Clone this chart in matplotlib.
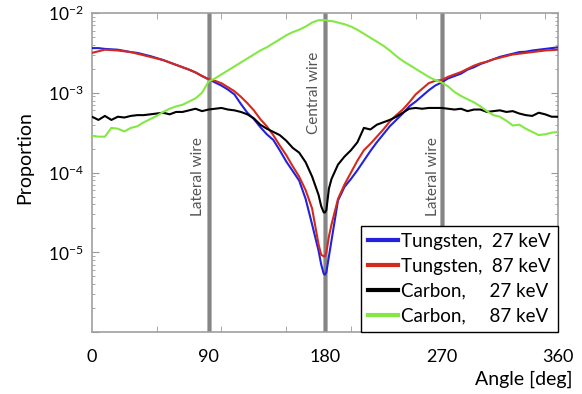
import matplotlib
matplotlib.use('Agg')
import matplotlib.pyplot as plt
import numpy as np

plt.rcParams.update({
    'font.family': ['Lato', 'DejaVu Sans'],
    'mathtext.fontset': 'custom',
    'mathtext.rm': 'Lato',
    'axes.linewidth': 1.2,
})

angle = ([a for a in range(0, 175, 5)] + [175, 177, 179, 180, 181, 183, 185]
         + [a for a in range(190, 365, 5)])

w27_exp = [-2.44, -2.44, -2.45, -2.455, -2.46, -2.475, -2.49, -2.50, -2.52, -2.54,
           -2.565, -2.59, -2.62, -2.65, -2.68, -2.71, -2.745, -2.79, -2.83, -2.87,
           -2.91, -2.96, -3.02, -3.14, -3.25, -3.33, -3.43, -3.52, -3.59, -3.72,
           -3.86, -3.98, -4.10, -4.33, -4.65,
           -4.98, -5.15, -5.27, -5.28, -5.25, -5.05, -4.85,
           -4.35, -4.18, -4.08, -3.97, -3.85, -3.73, -3.62, -3.52, -3.42, -3.34,
           -3.26, -3.17, -3.11, -3.04, -2.97, -2.91, -2.87, -2.82, -2.79, -2.76,
           -2.71, -2.68, -2.64, -2.61, -2.58, -2.55, -2.53, -2.51, -2.49, -2.485,
           -2.47, -2.46, -2.45, -2.44, -2.43]

w87_exp = [-2.50, -2.48, -2.46, -2.465, -2.47, -2.48, -2.49, -2.51, -2.53, -2.55,
           -2.57, -2.59, -2.62, -2.65, -2.68, -2.71, -2.745, -2.79, -2.83, -2.85,
           -2.88, -2.93, -2.98, -3.05, -3.13, -3.22, -3.33, -3.42, -3.53, -3.66,
           -3.78, -3.92, -4.05, -4.22, -4.45,
           -4.90, -5.03, -5.05, -5.05, -5.00, -4.80, -4.65,
           -4.33, -4.15, -4.00, -3.85, -3.72, -3.64, -3.55, -3.46, -3.36, -3.28,
           -3.21, -3.12, -3.02, -2.95, -2.88, -2.85, -2.84, -2.80, -2.77, -2.74,
           -2.70, -2.66, -2.63, -2.61, -2.58, -2.56, -2.54, -2.52, -2.51, -2.50,
           -2.49, -2.48, -2.47, -2.465, -2.46]

c27_exp = [-3.30, -3.34, -3.29, -3.34, -3.30, -3.31, -3.29, -3.28, -3.28, -3.27,
           -3.26, -3.25, -3.27, -3.24, -3.24, -3.22, -3.20, -3.23, -3.21, -3.20,
           -3.19, -3.21, -3.22, -3.24, -3.27, -3.32, -3.40, -3.45, -3.49, -3.53,
           -3.60, -3.69, -3.75, -3.87, -4.05,
           -4.28, -4.42, -4.50, -4.50, -4.47, -4.20, -4.08,
           -3.90, -3.80, -3.72, -3.62, -3.44, -3.46, -3.40, -3.37, -3.34, -3.30,
           -3.25, -3.20, -3.19, -3.20, -3.19, -3.19, -3.19, -3.20, -3.21, -3.20,
           -3.23, -3.21, -3.21, -3.24, -3.23, -3.22, -3.24, -3.23, -3.26, -3.28,
           -3.29, -3.25, -3.27, -3.30, -3.30]

c87_exp = [-3.54, -3.55, -3.55, -3.44, -3.45, -3.485, -3.44, -3.42, -3.37, -3.33,
           -3.29, -3.24, -3.20, -3.17, -3.15, -3.11, -3.07, -3.00, -2.86, -2.82,
           -2.77, -2.72, -2.67, -2.62, -2.57, -2.52, -2.47, -2.43, -2.38, -2.33,
           -2.28, -2.24, -2.21, -2.17, -2.12,
           -2.09, -2.09, -2.09, -2.09, -2.09, -2.10, -2.10,
           -2.12, -2.14, -2.17, -2.21, -2.26, -2.31, -2.36, -2.41, -2.47, -2.54,
           -2.60, -2.65, -2.70, -2.75, -2.80, -2.84, -2.87, -2.92, -2.99, -3.04,
           -3.08, -3.12, -3.17, -3.23, -3.28, -3.30, -3.35, -3.41, -3.40, -3.45,
           -3.49, -3.53, -3.52, -3.50, -3.49]

series_labels = ['Tungsten,  27 keV', 'Tungsten,  87 keV',
                 'Carbon,     27 keV', 'Carbon,     87 keV']
series_colors = ['#2222dd', '#d42a1c', '#000000', '#84e844']

wire_angles = [90, 180, 270]
wire_names = ['Lateral wire', 'Central wire', 'Lateral wire']

xtick_vals = [0, 90, 180, 270, 360]
ytick_vals = [1e-6, 1e-5, 1e-4, 1e-3, 1e-2]
ytick_labels = ['', r'$\mathregular{10^{-5}}$', r'$\mathregular{10^{-4}}$',
                r'$\mathregular{10^{-3}}$', r'$\mathregular{10^{-2}}$']

fig = plt.figure(figsize=(5.82, 3.94), dpi=100)
ax = fig.add_axes([0.158, 0.157, 0.801, 0.810])

# wires
for xa in wire_angles:
    ax.axvline(xa, color='#b8b8b8', lw=3.6, zorder=1)
    ax.axvline(xa, color='#858585', lw=2.2, zorder=1.1)

for vals, lab, col in zip([w27_exp, w87_exp, c27_exp, c87_exp], series_labels, series_colors):
    ax.plot(angle, 10.0 ** np.array(vals), color=col, lw=1.5, label=lab, zorder=3)

ax.set_yscale('log')
ax.set_ylim(1e-6, 1e-2)
ax.set_xlim(0, 360)

ax.set_yticks(ytick_vals, labels=ytick_labels)
ax.set_xticks(xtick_vals)
ax.set_xticks(range(50, 360, 50), minor=True)
ax.tick_params(axis='x', which='major', length=0, pad=12, labelsize=13)
ax.tick_params(axis='x', which='minor', direction='in', length=4, color='#999999',
               top=True, bottom=True)
ax.tick_params(axis='y', which='major', direction='in', length=5, color='#999999',
               left=True, right=True, labelsize=12.5, pad=6)
ax.tick_params(axis='y', which='minor', direction='in', length=2.5, color='#999999',
               left=True, right=True)
for sp in ax.spines.values():
    sp.set_color('#a0a0a0')

# wire labels
ax.text(82, 9e-5, wire_names[0], rotation=90, ha='center', va='center',
        fontsize=11, color='#555555')
ax.text(171.5, 1e-3, wire_names[1], rotation=90, ha='center', va='center',
        fontsize=11, color='#555555')
ax.text(263, 9e-5, wire_names[2], rotation=90, ha='center', va='center',
        fontsize=11, color='#555555')

leg = ax.legend(loc='lower right', borderaxespad=0, fontsize=13.5, frameon=True,
                fancybox=False, edgecolor='black', framealpha=1,
                handlelength=1.6, handletextpad=0.15, labelspacing=0.42,
                borderpad=0.4)
leg.get_frame().set_linewidth(1.0)
for ln in leg.get_lines():
    ln.set_linewidth(3)

fig.text(0.043, 0.60, 'Proportion', rotation=90, ha='center', va='center', fontsize=14)
fig.text(0.983, 0.036, 'Angle [deg]', ha='right', va='center', fontsize=14)

fig.savefig('out.png', dpi=100)
